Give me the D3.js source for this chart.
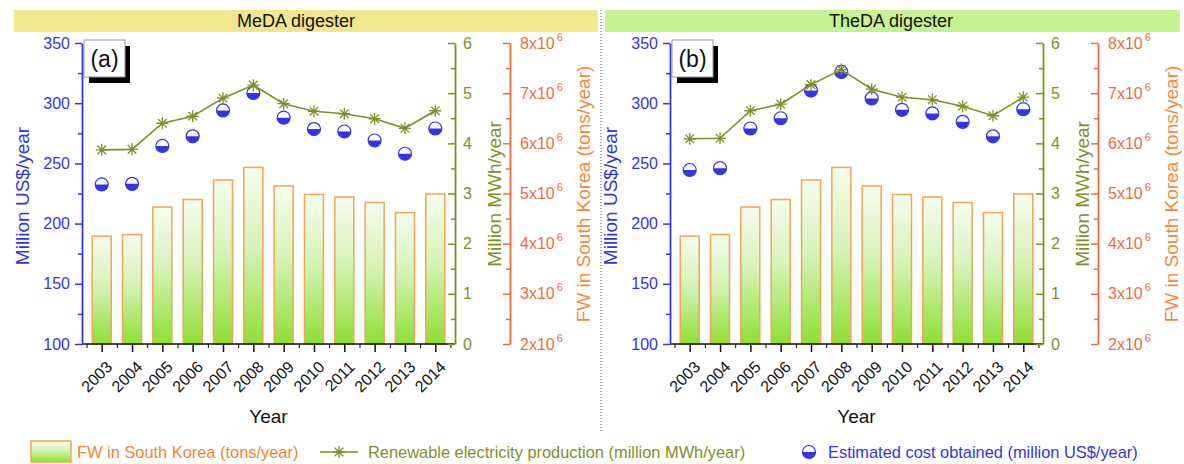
<!DOCTYPE html>
<html>
<head>
<meta charset="utf-8">
<script src="https://cdn.jsdelivr.net/npm/d3@7"></script>
<style>
  body { margin: 0; background: #fff; }
  svg { display: block; font-family: "Liberation Sans", Arial, sans-serif; }
</style>
</head>
<body>
<svg id="chart" width="1184" height="464"></svg>
<script>
// ---- data ----
const YEARS = [2003, 2004, 2005, 2006, 2007, 2008, 2009, 2010, 2011, 2012, 2013, 2014];
// food waste, tons/year (same in both panels)
const FW = [4.15e6, 4.18e6, 4.73e6, 4.88e6, 5.27e6, 5.52e6, 5.15e6, 4.98e6, 4.93e6, 4.82e6, 4.62e6, 4.99e6];
// (a) MeDA digester
const ELEC_A = [3.87, 3.88, 4.40, 4.54, 4.90, 5.16, 4.79, 4.64, 4.59, 4.49, 4.30, 4.65];
const COST_A = [232.5, 233, 264.5, 272.5, 294, 308.5, 288, 278.5, 276.5, 269, 258, 279];
// (b) TheDA digester
const ELEC_B = [4.09, 4.10, 4.65, 4.78, 5.17, 5.47, 5.08, 4.92, 4.87, 4.74, 4.55, 4.92];
const COST_B = [244.5, 246, 279, 287.5, 310.5, 326, 304, 294.5, 291.5, 284.5, 272.5, 295];

const COST_TICKS = [100, 150, 200, 250, 300, 350];
const ELEC_TICKS = [0, 1, 2, 3, 4, 5, 6];
const FW_TICKS = [2e6, 3e6, 4e6, 5e6, 6e6, 7e6, 8e6];

const BLUE = '#3434e6', OLIVE = '#7f8f24', ORANGE = '#ef6b3c', ORANGE2 = '#f5883c', BAR_STROKE = '#f4a456';
const FONT = '"Liberation Sans", Arial, sans-serif';

const svg = d3.select('#chart');
const defs = svg.append('defs');
const grad = defs.append('linearGradient').attr('id', 'barGrad')
  .attr('x1', 0).attr('y1', 0).attr('x2', 0).attr('y2', 1);
grad.append('stop').attr('offset', '0%').attr('stop-color', '#f6fcef');
grad.append('stop').attr('offset', '45%').attr('stop-color', '#d6f3b8');
grad.append('stop').attr('offset', '100%').attr('stop-color', '#8ee034');

function starPath(r) {
  const d = r * 0.72;
  return `M0,${-r}V${r}M${-r},0H${r}M${-d},${-d}L${d},${d}M${-d},${d}L${d},${-d}`;
}

function halfCircle(sel, r) {
  sel.append('circle').attr('r', r).attr('fill', '#fff').attr('stroke', BLUE).attr('stroke-width', 1.2);
  sel.append('path').attr('d', `M${-r},0A${r},${r} 0 0 0 ${r},0Z`).attr('fill', BLUE);
}

function drawPanel(dx, title, band, letter, elec, cost) {
  const g = svg.append('g').attr('transform', `translate(${dx},0)`);
  const L = 82, R = 455, R2 = 510, T = 43, B = 344;

  g.append('rect').attr('x', band[0]).attr('y', 10).attr('width', band[1] - band[0]).attr('height', 22)
    .attr('fill', band[2]);
  g.append('text').attr('x', band[3]).attr('y', 21).attr('dy', '0.36em').attr('text-anchor', 'middle')
    .attr('font-size', 18).attr('fill', '#111').text(title);

  const x = d3.scaleLinear().domain([2002.35, 2014.65]).range([L, R]);
  const yCost = d3.scaleLinear().domain([100, 350]).range([B, T]);
  const yElec = d3.scaleLinear().domain([0, 6]).range([B, T]);
  const yFw = d3.scaleLinear().domain([2e6, 8e6]).range([B, T]);
  const bw = 19;

  // bars
  g.append('g').selectAll('rect').data(FW).join('rect')
    .attr('x', (d, i) => x(YEARS[i]) - bw / 2)
    .attr('y', d => yFw(d))
    .attr('width', bw)
    .attr('height', d => B - yFw(d))
    .attr('fill', 'url(#barGrad)')
    .attr('stroke', BAR_STROKE).attr('stroke-width', 1.5);

  // x axis
  const xMinor = d3.range(2002.5, 2015, 1);
  g.append('g').attr('transform', `translate(0,${B})`)
    .call(d3.axisBottom(x).tickValues(xMinor).tickSize(4).tickFormat(''))
    .call(a => a.select('.domain').remove());
  const xa = g.append('g').attr('transform', `translate(0,${B})`)
    .call(d3.axisBottom(x).tickValues(YEARS).tickSize(8).tickSizeOuter(0).tickFormat(d3.format('d')));
  xa.select('.domain').attr('d', `M${L},0H${R}`).attr('stroke', '#111').attr('stroke-width', 1.5);
  xa.selectAll('line').attr('stroke', '#111').attr('stroke-width', 1.5);
  xa.selectAll('text').attr('x', 0).attr('y', 0).attr('dy', '0.35em')
    .attr('transform', 'translate(7,20) rotate(-45)')
    .attr('text-anchor', 'end').attr('font-size', 16).attr('fill', '#111')
    .attr('font-family', FONT);

  g.append('text').attr('x', (L + R) / 2).attr('y', 416).attr('dy', '0.36em')
    .attr('text-anchor', 'middle').attr('font-size', 19).attr('fill', '#111').text('Year');

  // left axis (cost)
  g.append('g').attr('transform', `translate(${L},0)`)
    .call(d3.axisLeft(yCost).tickValues(d3.range(125, 350, 50)).tickSize(4).tickFormat(''))
    .call(a => a.select('.domain').remove())
    .selectAll('line').attr('stroke', BLUE).attr('stroke-width', 1.5);
  const la = g.append('g').attr('transform', `translate(${L},0)`)
    .call(d3.axisLeft(yCost).tickValues(COST_TICKS).tickSize(7).tickSizeOuter(0).tickPadding(5)
      .tickFormat(d3.format('d')));
  la.select('.domain').attr('stroke', BLUE).attr('stroke-width', 1.8);
  la.selectAll('line').attr('stroke', BLUE).attr('stroke-width', 1.5);
  la.selectAll('text').attr('font-size', 16).attr('fill', BLUE).attr('font-family', FONT);
  g.append('text').attr('transform', `translate(22,196) rotate(-90)`).attr('dy', '0.36em')
    .attr('text-anchor', 'middle').attr('font-size', 19).attr('fill', BLUE).text('Million US$/year');

  // right axis (electricity)
  g.append('g').attr('transform', `translate(${R},0)`)
    .call(d3.axisRight(yElec).tickValues(d3.range(0.5, 6, 1)).tickSizeInner(-4).tickFormat(''))
    .call(a => a.select('.domain').remove())
    .selectAll('line').attr('stroke', OLIVE).attr('stroke-width', 1.5);
  const ea = g.append('g').attr('transform', `translate(${R},0)`)
    .call(d3.axisRight(yElec).tickValues(ELEC_TICKS).tickSizeInner(-7).tickSizeOuter(0).tickPadding(8)
      .tickFormat(d3.format('d')));
  ea.select('.domain').attr('stroke', OLIVE).attr('stroke-width', 1.8);
  ea.selectAll('line').attr('stroke', OLIVE).attr('stroke-width', 1.5);
  ea.selectAll('text').attr('font-size', 16).attr('fill', OLIVE).attr('font-family', FONT);
  g.append('text').attr('transform', `translate(494,194) rotate(-90)`).attr('dy', '0.36em')
    .attr('text-anchor', 'middle').attr('font-size', 19).attr('fill', OLIVE).text('Million MWh/year');

  // far right axis (food waste)
  g.append('g').attr('transform', `translate(${R2},0)`)
    .call(d3.axisRight(yFw).tickValues(d3.range(2.5e6, 8e6, 1e6)).tickSizeInner(-4).tickFormat(''))
    .call(a => a.select('.domain').remove())
    .selectAll('line').attr('stroke', ORANGE).attr('stroke-width', 1.5);
  const fa = g.append('g').attr('transform', `translate(${R2},0)`)
    .call(d3.axisRight(yFw).tickValues(FW_TICKS).tickSizeInner(-7).tickSizeOuter(0).tickPadding(10).tickFormat(''));
  fa.select('.domain').attr('stroke', ORANGE).attr('stroke-width', 1.8);
  fa.selectAll('line').attr('stroke', ORANGE).attr('stroke-width', 1.5);
  fa.selectAll('text').attr('font-size', 16).attr('fill', ORANGE).attr('font-family', FONT)
    .each(function(d) {
      const t = d3.select(this);
      t.append('tspan').text(`${d / 1e6}x10`);
      t.append('tspan').attr('dx', 2).attr('dy', -8).attr('font-size', 11).text('6');
    });
  g.append('text').attr('transform', `translate(583,194) rotate(-90)`).attr('dy', '0.36em')
    .attr('text-anchor', 'middle').attr('font-size', 19).attr('fill', ORANGE2).text('FW in South Korea (tons/year)');

  // cost markers
  g.append('g').selectAll('g').data(cost).join('g')
    .attr('transform', (d, i) => `translate(${x(YEARS[i])},${yCost(d)})`)
    .call(s => halfCircle(s, 6.5));

  // electricity line + stars
  const line = d3.line().x((d, i) => x(YEARS[i])).y(d => yElec(d));
  g.append('path').datum(elec).attr('d', line).attr('fill', 'none')
    .attr('stroke', OLIVE).attr('stroke-width', 1.6);
  g.append('g').selectAll('path').data(elec).join('path')
    .attr('transform', (d, i) => `translate(${x(YEARS[i])},${yElec(d)})`)
    .attr('d', starPath(6)).attr('stroke', OLIVE).attr('stroke-width', 1.3).attr('fill', 'none');

  // panel letter box
  g.append('rect').attr('x', 89).attr('y', 46).attr('width', 41).attr('height', 37).attr('fill', '#000');
  g.append('rect').attr('x', 84).attr('y', 40).attr('width', 41).attr('height', 37)
    .attr('fill', '#fff').attr('stroke', '#999').attr('stroke-width', 1);
  g.append('text').attr('x', 104.5).attr('y', 58.5).attr('dy', '0.36em').attr('text-anchor', 'middle')
    .attr('font-size', 23).attr('fill', '#111').text(letter);
}

drawPanel(0, 'MeDA digester', [14, 598, '#f0e68c', 296], '(a)', ELEC_A, COST_A);
drawPanel(588, 'TheDA digester', [17, 592, '#c6f391', 303], '(b)', ELEC_B, COST_B);

// dotted separator
svg.append('line').attr('x1', 601).attr('x2', 601).attr('y1', 10).attr('y2', 432)
  .attr('stroke', '#555').attr('stroke-width', 1).attr('stroke-dasharray', '1,2');

// legend
const lg = svg.append('g').attr('font-size', 16.4);
lg.append('rect').attr('x', 31).attr('y', 441).attr('width', 40).attr('height', 21)
  .attr('fill', 'url(#barGrad)').attr('stroke', BAR_STROKE).attr('stroke-width', 1.5);
lg.append('text').attr('x', 77).attr('y', 452).attr('dy', '0.36em').attr('fill', '#f08434')
  .text('FW in South Korea (tons/year)');
lg.append('line').attr('x1', 320).attr('x2', 358).attr('y1', 452).attr('y2', 452)
  .attr('stroke', OLIVE).attr('stroke-width', 1.6);
lg.append('path').attr('transform', 'translate(339,452)').attr('d', starPath(6))
  .attr('stroke', OLIVE).attr('stroke-width', 1.3).attr('fill', 'none');
lg.append('text').attr('x', 368).attr('y', 452).attr('dy', '0.36em').attr('fill', OLIVE)
  .text('Renewable electricity production (million MWh/year)');
lg.append('g').attr('transform', 'translate(809,452)').call(s => halfCircle(s, 6.5));
lg.append('text').attr('x', 828).attr('y', 452).attr('dy', '0.36em').attr('fill', BLUE)
  .text('Estimated cost obtained (million US$/year)');
</script>
</body>
</html>
